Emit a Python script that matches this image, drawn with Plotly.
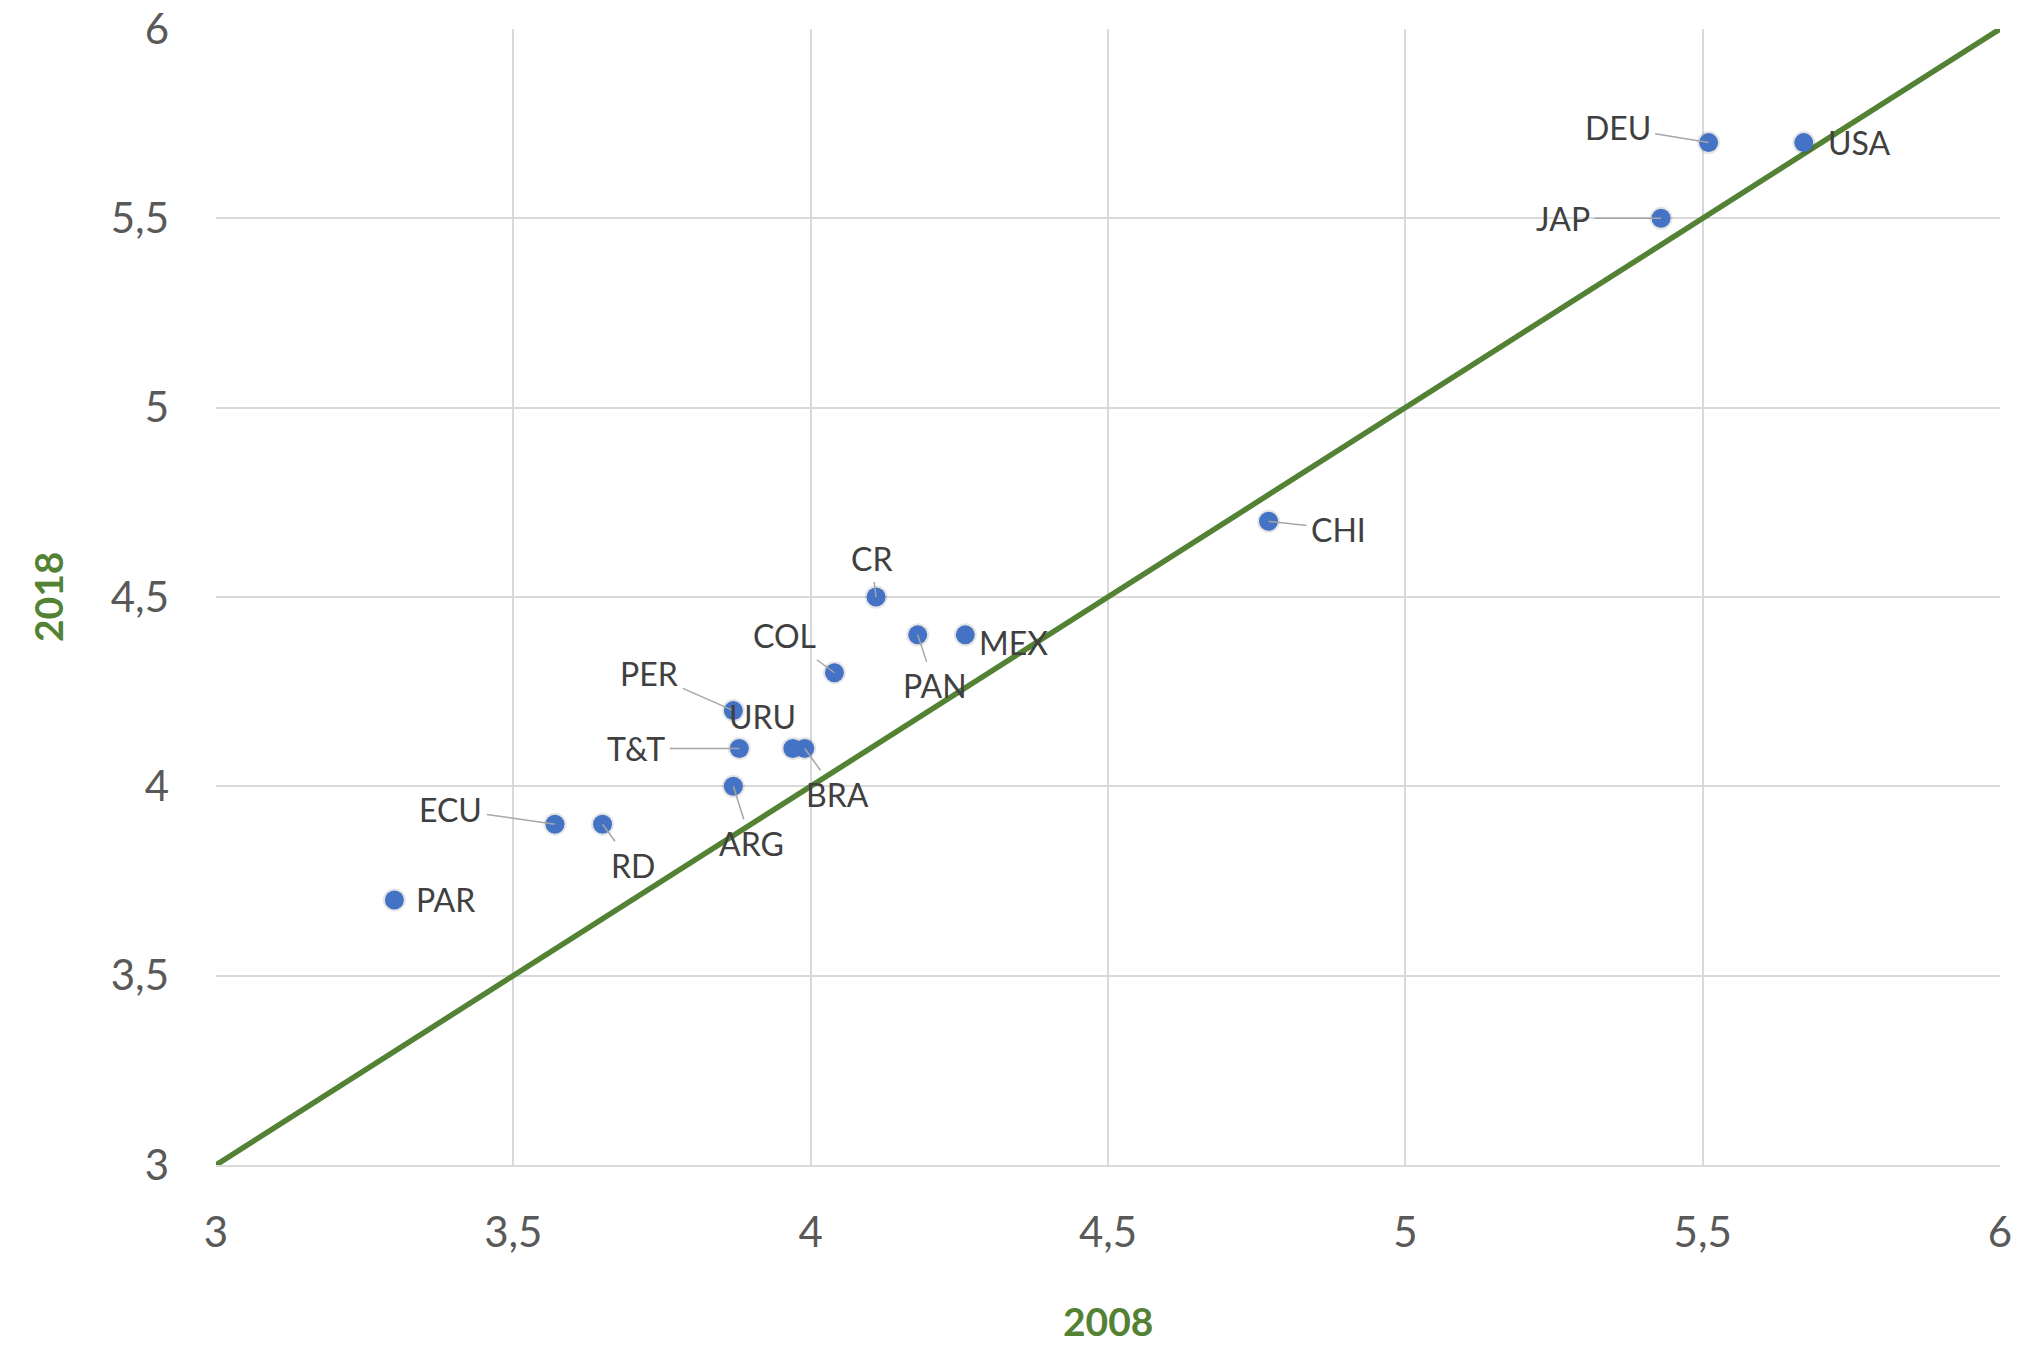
import plotly.graph_objects as go

# ---- data ----
countries = ["USA", "DEU", "JAP", "CHI", "CR", "PAN", "MEX", "COL", "PER",
             "URU", "T&T", "BRA", "ARG", "ECU", "RD", "PAR"]
v2008 = [5.67, 5.51, 5.43, 4.77, 4.11, 4.18, 4.26, 4.04, 3.87,
         3.97, 3.88, 3.99, 3.87, 3.57, 3.65, 3.30]
v2018 = [5.70, 5.70, 5.50, 4.70, 4.50, 4.40, 4.40, 4.30, 4.20,
         4.10, 4.10, 4.10, 4.00, 3.90, 3.90, 3.70]
diag = [3, 6]
tick_vals = [3, 3.5, 4, 4.5, 5, 5.5, 6]
tick_text = ["3", "3,5", "4", "4,5", "5", "5,5", "6"]

# ---- label placement (pixel offsets, leader flag) ----
label_pos = {
    "USA": (55, 0, False), "DEU": (-91, -15, True), "JAP": (-98, 0, True),
    "CHI": (70, 8, True), "CR": (-5, -39, True), "PAN": (17, 51, True),
    "MEX": (48, 8, False), "COL": (-50, -37, True), "PER": (-84, -37, True),
    "URU": (-30, -32, False), "T&T": (-103, 0, True), "BRA": (33, 46, True),
    "ARG": (18, 57, True), "ECU": (-104, -15, True), "RD": (30, 41, True),
    "PAR": (51, 0, False),
}

GREEN = "#548235"
FONT = "Lato"

fig = go.Figure()
fig.add_trace(go.Scatter(x=diag, y=diag, mode="lines",
                         line=dict(color=GREEN, width=5.5), hoverinfo="skip",
                         showlegend=False, cliponaxis=False))
# soft shadow halo
fig.add_trace(go.Scatter(x=v2008, y=v2018, mode="markers",
                         marker=dict(size=23, color="rgba(0,0,0,0.10)", line=dict(width=0)),
                         hoverinfo="skip", showlegend=False))
fig.add_trace(go.Scatter(x=v2008, y=v2018, mode="markers",
                         marker=dict(size=19, color="#4472C4", line=dict(width=0)),
                         text=countries, showlegend=False))

annotations = []
for c, x, y in zip(countries, v2008, v2018):
    dx, dy, leader = label_pos[c]
    if leader:
        annotations.append(dict(x=x, y=y, xref="x", yref="y", text=c,
                                showarrow=True, ax=dx, ay=dy, arrowhead=0,
                                arrowwidth=1.5, arrowcolor="#A6A6A6",
                                borderpad=4, standoff=0,
                                font=dict(family=FONT, size=32, color="#404040")))
    else:
        annotations.append(dict(x=x, y=y, xref="x", yref="y", text=c,
                                showarrow=False, xshift=dx, yshift=-dy,
                                font=dict(family=FONT, size=32, color="#404040")))

annotations.append(dict(x=0.5, y=0, xref="paper", yref="paper", text="<b>2008</b>",
                        showarrow=False, yshift=-156, xanchor="center", yanchor="middle",
                        font=dict(family=FONT, size=39, color=GREEN)))
annotations.append(dict(x=0, y=0.5, xref="paper", yref="paper", text="<b>2018</b>",
                        showarrow=False, xshift=-168, xanchor="center", yanchor="middle",
                        textangle=-90, font=dict(family=FONT, size=39, color=GREEN)))

axis_common = dict(range=[3, 6], tickvals=tick_vals, ticktext=tick_text,
                   showgrid=True, gridcolor="#D9D9D9", gridwidth=1.5,
                   zeroline=False, ticks="", automargin=False,
                   ticklabeloverflow="allow",
                   tickfont=dict(family=FONT, size=42, color="#595959"))

fig.update_layout(
    width=2017, height=1345,
    margin=dict(l=216, r=17, t=29, b=180),
    paper_bgcolor="white", plot_bgcolor="white",
    xaxis=dict(**axis_common, showline=True, linecolor="#D9D9D9", linewidth=2,
               ticklabelstandoff=30),
    yaxis=dict(**axis_common, showline=False, ticklabelstandoff=46),
    annotations=annotations,
    font=dict(family=FONT),
)

# remove the browser's default 8px body margin so the figure fills the window
fig.write_html("out.html", config={"displayModeBar": False},
               post_script="document.body.style.margin='0';document.body.style.overflow='hidden';")
